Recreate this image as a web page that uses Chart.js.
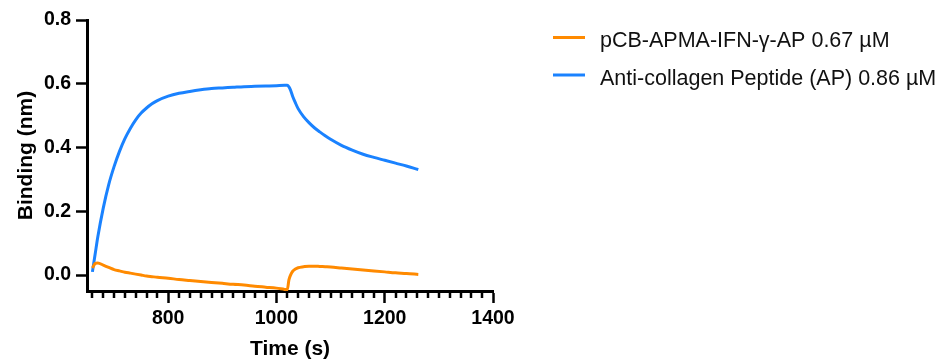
<!DOCTYPE html>
<html>
<head>
<meta charset="utf-8">
<script src="https://cdn.jsdelivr.net/npm/chart.js@4"></script>
<style>
html,body{margin:0;padding:0;background:#fff;}
</style>
</head>
<body>
<canvas id="chart" width="943" height="362"></canvas>
<script>
// time points (s)
const times = [660, 665, 670, 680, 690, 700, 710, 720, 730, 740, 750, 760, 770, 780, 800, 820, 840, 860, 880, 900,
  920, 940, 960, 980, 1000, 1015, 1020, 1023, 1026, 1030, 1035, 1040, 1050, 1060, 1070, 1080, 1090, 1100, 1120, 1140,
  1160, 1180, 1200, 1220, 1240, 1262];

// pCB-APMA-IFN-γ-AP 0.67 µM
const orangeVals = [0.022, 0.036, 0.038, 0.031, 0.024, 0.017, 0.013, 0.009, 0.006, 0.003, 0.000, -0.003, -0.005, -0.007, -0.010, -0.014, -0.017, -0.020, -0.023, -0.026,
  -0.029, -0.031, -0.035, -0.038, -0.041, -0.045, -0.046, -0.015, 0.000, 0.012, 0.019, 0.023, 0.026, 0.028, 0.028, 0.027, 0.026, 0.025, 0.022, 0.019,
  0.016, 0.013, 0.010, 0.007, 0.005, 0.002];

// Anti-collagen Peptide (AP) 0.86 µM
const blueVals = [0.010, 0.065, 0.120, 0.210, 0.283, 0.340, 0.388, 0.428, 0.460, 0.487, 0.508, 0.524, 0.537, 0.547, 0.561, 0.570, 0.576, 0.581, 0.585, 0.587,
  0.589, 0.591, 0.592, 0.593, 0.594, 0.595, 0.595, 0.590, 0.580, 0.560, 0.540, 0.522, 0.497, 0.478, 0.462, 0.449, 0.437, 0.426, 0.407, 0.392,
  0.379, 0.369, 0.360, 0.351, 0.342, 0.331];

const seriesLabels = ['pCB-APMA-IFN-γ-AP 0.67 µM', 'Anti-collagen Peptide (AP) 0.86 µM'];
const seriesColors = ['#FF8A00', '#1A82FF'];

const xMajorTicks = [800, 1000, 1200, 1400];
const yTicks = [0.0, 0.2, 0.4, 0.6, 0.8];

const FONT = "'Liberation Sans', Arial, Helvetica, sans-serif";

function toPoints(vals){
    return times.map((t, i) => ({x: t, y: vals[i]}));
}

// small ticks every 20 s
const minorTicks = [];
for(let v = 660; v < 1400; v += 20){
    if(xMajorTicks.indexOf(v) < 0) minorTicks.push(v);
}

const extras = {
    id: 'extras',
    afterDraw(chart){
        const ctx = chart.ctx;
        const xs = chart.scales.x;
        const bottom = chart.chartArea.bottom;
        ctx.save();
        // minor ticks
        ctx.strokeStyle = '#000';
        ctx.lineWidth = 2.5;
        minorTicks.forEach(v => {
            const px = Math.round(xs.getPixelForValue(v));
            ctx.beginPath();
            ctx.moveTo(px, bottom);
            ctx.lineTo(px, bottom + 7);
            ctx.stroke();
        });
        // legend
        ctx.font = "21.5px " + FONT;
        ctx.textBaseline = 'alphabetic';
        chart.data.datasets.forEach((ds, i) => {
            const ly = 37.5 + i * 37.5;
            ctx.strokeStyle = ds.borderColor;
            ctx.lineWidth = 3;
            ctx.beginPath();
            ctx.moveTo(553, ly);
            ctx.lineTo(585, ly);
            ctx.stroke();
            ctx.fillStyle = '#111';
            ctx.fillText(ds.label, 600, ly + 9.5);
        });
        ctx.restore();
    }
};

new Chart(document.getElementById('chart'), {
    type: 'line',
    data: {
        datasets: [
            {label: seriesLabels[0], data: toPoints(orangeVals), borderColor: seriesColors[0], backgroundColor: seriesColors[0]},
            {label: seriesLabels[1], data: toPoints(blueVals), borderColor: seriesColors[1], backgroundColor: seriesColors[1]}
        ]
    },
    options: {
        responsive: false,
        animation: false,
        events: [],
        clip: false,
        layout: {padding: {top: 20, right: 450, left: 0, bottom: 0}},
        elements: {
            point: {radius: 0},
            line: {borderWidth: 3, cubicInterpolationMode: 'monotone'}
        },
        plugins: {legend: {display: false}, tooltip: {enabled: false}},
        scales: {
            x: {
                type: 'linear',
                min: 650,
                max: 1400,
                afterBuildTicks: s => { s.ticks = xMajorTicks.map(v => ({value: v})); },
                afterFit: s => { s.height = 71; },
                grid: {drawOnChartArea: false, drawTicks: true, tickLength: 12, tickWidth: 2.5, tickColor: '#000'},
                border: {display: true, color: '#000', width: 3},
                ticks: {color: '#000', padding: 4, maxRotation: 0, callback: v => String(v), font: {family: FONT, size: 19.5, weight: 'bold'}},
                title: {display: true, text: 'Time (s)', color: '#000', padding: {top: 0, bottom: 0}, font: {family: FONT, size: 21, weight: 'bold'}}
            },
            y: {
                min: -0.05,
                max: 0.8,
                afterBuildTicks: s => { s.ticks = yTicks.map(v => ({value: v})); },
                afterFit: s => { s.width = 87; },
                grid: {drawOnChartArea: false, drawTicks: true, tickLength: 11, tickWidth: 2.5, tickColor: '#000'},
                border: {display: true, color: '#000', width: 3},
                ticks: {color: '#000', padding: 5, callback: v => v.toFixed(1), font: {family: FONT, size: 19.5, weight: 'bold'}},
                title: {display: true, text: 'Binding (nm)', color: '#000', padding: {top: 14, bottom: 0}, font: {family: FONT, size: 21, weight: 'bold'}}
            }
        }
    },
    plugins: [extras]
});
</script>
</body>
</html>
